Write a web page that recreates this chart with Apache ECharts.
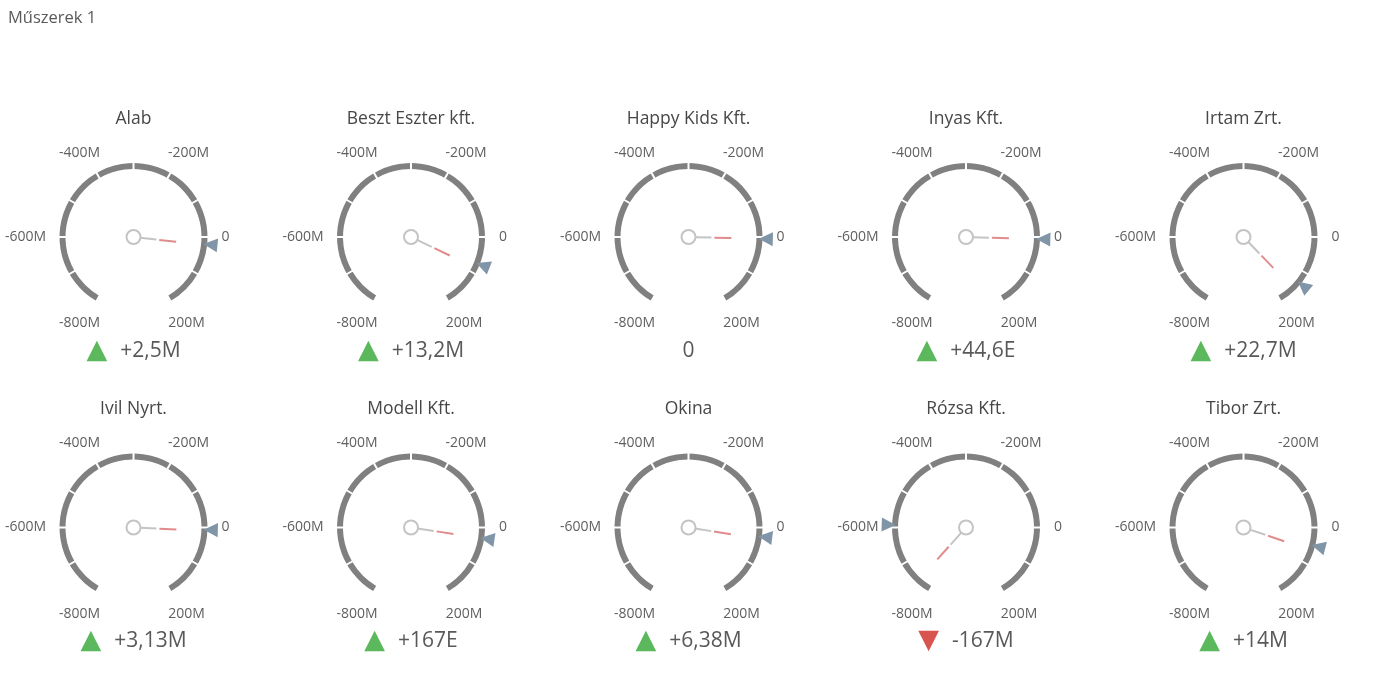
<!DOCTYPE html>
<html><head><meta charset="utf-8">
<script src="https://cdn.jsdelivr.net/npm/echarts@6/dist/echarts.min.js"></script>
<style>html,body{margin:0;padding:0;background:#fff}#c{width:1394px;height:699px}</style>
</head><body><div id="c"></div>
<script>
// ---- data (values in millions) ----
const names = ['Alab','Beszt Eszter kft.','Happy Kids Kft.','Inyas Kft.','Irtam Zrt.','Ivil Nyrt.','Modell Kft.','Okina','Rózsa Kft.','Tibor Zrt.'];
const actualM = [21.5, 85.2, 5, 5.5446, 153.7, 9.13, 28.667, 30.38, -760, 62];
const targetM = [19, 72, 5, 5.5, 131, 6, 28.5, 24, -593, 48];
const deltaLabels = ['+2,5M','+13,2M','0','+44,6E','+22,7M','+3,13M','+167E','+6,38M','-167M','+14M'];
const tickValues = [-800, -600, -400, -200, 0, 200];
const tickLabels = ['-800M','-600M','-400M','-200M','0','200M'];
const scaleMin = -800, scaleMax = 200;

const FONT = '"Open Sans", "Noto Sans", sans-serif';
const chart = echarts.init(document.getElementById('c'), null, {renderer: 'canvas'});

const labelRich = {};
const pads = [[0,0,160,16],[0,0,0,62],[164,0,0,16],[164,15,0,0],[0,78,0,0],[0,17,160,0]];
pads.forEach((p, i) => {
  labelRich['k' + i] = {width: 60, lineHeight: 14, align: 'center', padding: p,
    fontSize: 14, color: '#5f5f5f', fontFamily: FONT};
});

const common = {
  type: 'gauge', radius: 74, startAngle: 240, endAngle: -60,
  min: scaleMin, max: scaleMax, splitNumber: 10, animation: false,
  axisTick: {show: false}, progress: {show: false}
};
const hiddenAxis = {
  axisLine: {show: false, lineStyle: {width: 0}},
  splitLine: {show: false, length: 0, distance: 0},
  axisLabel: {show: false},
  title: {show: false}, detail: {show: false}, anchor: {show: false}
};

const series = [];
names.forEach((name, i) => {
  const col = i % 5, row = Math.floor(i / 5);
  const center = [133.5 + col * 277.5, 237 + row * 290.5];
  const diff = actualM[i] - targetM[i];
  const dir = diff > 0 ? 'up' : (diff < 0 ? 'down' : 'none');
  // arc, title, delta, red needle tip
  series.push(Object.assign({}, common, {
    center: center,
    axisLine: {lineStyle: {width: 6, color: [[1, '#808080']]}},
    splitLine: {show: true, distance: -7, length: 8, lineStyle: {color: '#fff', width: 2}},
    axisLabel: {show: false},
    anchor: {show: false},
    pointer: {show: true, icon: 'rect', length: '23%', width: 2, offsetCenter: [0, '-35%'],
      itemStyle: {color: '#e08c8c'}},
    title: {show: true, offsetCenter: [0, '-160%'], fontSize: 17.5, color: '#474747', fontFamily: FONT},
    detail: {show: true, offsetCenter: [0, '154%'], valueAnimation: false, fontWeight: 'normal',
      formatter: function () {
        if (dir === 'up') return '{up|▲}{sp| }{v|' + deltaLabels[i] + '}';
        if (dir === 'down') return '{dn|▼}{sp| }{v|' + deltaLabels[i] + '}';
        return '{v|' + deltaLabels[i] + '}';
      },
      rich: {
        up: {fontSize: 27, color: '#5cb85c', fontFamily: '"DejaVu Sans"', fontWeight: 'normal'},
        dn: {fontSize: 27, color: '#d9534f', fontFamily: '"DejaVu Sans"', fontWeight: 'normal'},
        sp: {fontSize: 20, width: 13},
        v: {fontSize: 21, color: '#595959', fontFamily: FONT, fontWeight: 'normal'}
      }
    },
    data: [{value: actualM[i], name: name}]
  }));
  // grey needle + hub
  series.push(Object.assign({}, common, hiddenAxis, {
    center: center,
    pointer: {show: true, icon: 'rect', length: '22%', width: 2, offsetCenter: [0, '-9%'],
      itemStyle: {color: '#c4c4c4'}},
    anchor: {show: true, showAbove: true, size: 14, icon: 'circle',
      itemStyle: {color: '#fff', borderColor: '#c4c4c4', borderWidth: 2}},
    data: [{value: actualM[i], name: ''}]
  }));
  // target marker
  series.push(Object.assign({}, common, hiddenAxis, {
    center: center,
    pointer: {show: true, icon: 'path://M0,0L12,0L6,11Z', keepAspect: false,
      length: '19%', width: '19%', offsetCenter: [0, '-95%'],
      itemStyle: {color: '#8096a8'}},
    data: [{value: targetM[i], name: ''}]
  }));
  // tick labels
  series.push(Object.assign({}, common, hiddenAxis, {
    center: center,
    pointer: {show: false},
    axisLabel: {show: true, distance: -126,
      formatter: function (v) {
        const k = tickValues.indexOf(Math.round(v));
        return k < 0 ? '' : '{k' + k + '|' + tickLabels[k] + '}';
      },
      rich: labelRich},
    data: [{value: 0, name: ''}]
  }));
});

chart.setOption({
  backgroundColor: '#fff',
  animation: false,
  title: {text: 'Műszerek 1', left: 8, top: 10, padding: 0,
    textStyle: {fontSize: 16.5, color: '#5a5a5a', fontWeight: 'normal', fontFamily: FONT}},
  series: series
});
</script></body></html>
